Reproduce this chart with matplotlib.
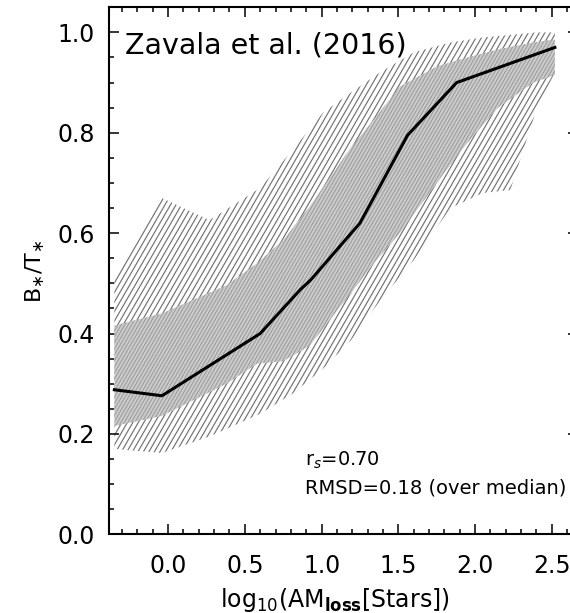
import numpy as np
import matplotlib
matplotlib.use('Agg')
import matplotlib.pyplot as plt
from matplotlib.collections import LineCollection
from matplotlib.patches import PathPatch
from matplotlib.ticker import MultipleLocator

# median B*/T* in bins of log10(AM_loss)
median_x = [-0.35, -0.04, 0.60, 0.86, 0.93, 1.25, 1.56, 1.88, 2.52]
median_y = [0.288, 0.276, 0.400, 0.487, 0.507, 0.620, 0.795, 0.900, 0.970]

# inner (1 sigma) band
inner_x = [-0.35, -0.04, 0.38, 0.58, 0.75, 0.92, 1.19, 1.34, 1.51, 1.75, 1.95, 2.15, 2.38, 2.52]
inner_lo = [0.216, 0.236, 0.300, 0.340, 0.345, 0.375, 0.480, 0.540, 0.600, 0.700, 0.780, 0.850, 0.900, 0.915]
inner_hi = [0.416, 0.440, 0.496, 0.540, 0.586, 0.652, 0.770, 0.826, 0.892, 0.932, 0.950, 0.966, 0.980, 0.986]

# outer (2 sigma) band
outer_x = [-0.35, -0.04, 0.27, 0.60, 0.81, 1.01, 1.19, 1.38, 1.60, 1.84, 2.05, 2.23, 2.40, 2.52]
outer_lo = [0.170, 0.162, 0.195, 0.240, 0.280, 0.330, 0.386, 0.465, 0.546, 0.650, 0.680, 0.686, 0.846, 0.920]
outer_hi = [0.506, 0.670, 0.626, 0.690, 0.765, 0.840, 0.880, 0.920, 0.960, 0.980, 0.990, 0.995, 1.000, 1.000]

r_s = 0.70
rmsd = 0.18

plt.rcParams['font.family'] = 'DejaVu Sans'
plt.rcParams['mathtext.fontset'] = 'dejavusans'

fig = plt.figure(figsize=(5.7, 6.13), dpi=100)
ax = fig.add_axes([0.1904, 0.1284, 0.8237, 0.8597])
ax.set_xlim(-0.388, 2.671)
ax.set_ylim(0, 1.05)


def line_fill(ax, x, lo, hi, spacing_px, angle, color, lw, face='none', z=1):
    # IDL-style polyfill: parallel lines clipped to the band polygon
    band = ax.fill_between(x, lo, hi, facecolor=face, edgecolor='none', zorder=z)
    patch = PathPatch(band.get_paths()[0], transform=ax.transData,
                      facecolor='none', edgecolor='none')
    ax.add_patch(patch)
    p0 = ax.transData.transform((0, 0))
    p1 = ax.transData.transform((1, 1))
    sx, sy = p1[0] - p0[0], p1[1] - p0[1]
    slope = np.tan(np.radians(angle)) * sx / sy
    y0, y1 = ax.get_ylim()
    xmin, xmax = ax.get_xlim()
    starts = np.arange(xmin - (y1 - y0) / slope, xmax, spacing_px / sx)
    segs = [[(xs, y0), (xs + (y1 - y0) / slope, y1)] for xs in starts]
    lc = LineCollection(segs, colors=color, linewidths=lw, zorder=z + 0.1)
    ax.add_collection(lc)
    lc.set_clip_path(patch)


line_fill(ax, outer_x, outer_lo, outer_hi, 5.5, 60, '#727272', 0.85, z=1)
line_fill(ax, inner_x, inner_lo, inner_hi, 3.5, 60, '#9a9a9a', 0.7, face='#cbcbcb', z=2)

ax.plot(median_x, median_y, color='black', lw=2.2, zorder=4)

ax.xaxis.set_major_locator(MultipleLocator(0.5))
ax.xaxis.set_minor_locator(MultipleLocator(0.1))
ax.yaxis.set_major_locator(MultipleLocator(0.2))
ax.yaxis.set_minor_locator(MultipleLocator(0.05))
ax.tick_params(which='both', direction='in', top=True, right=True, width=1.1)
ax.tick_params(which='major', length=7.2, labelsize=17, pad=10)
ax.tick_params(axis='x', which='major', pad=14.5)
ax.tick_params(which='minor', length=3.6)
for s in ax.spines.values():
    s.set_linewidth(1.5)

ax.set_xlabel(r'log$_{10}$(AM$_{\mathbf{loss}}$[Stars])', fontsize=17)
ax.xaxis.set_label_coords(0.482, -0.098)
ax.set_ylabel(r'B$_{\ast}$/T$_{\ast}$', fontsize=16)
ax.yaxis.set_label_coords(-0.13, 0.5)

ax.text(0.035, 0.928, 'Zavala et al. (2016)', transform=ax.transAxes,
        fontsize=20.5, va='center', ha='left')
ax.text(0.4185, 0.141, r'r$_s$=%.2f' % r_s, transform=ax.transAxes,
        fontsize=14, va='center', ha='left')
ax.text(0.4185, 0.088, 'RMSD=%.2f (over median)' % rmsd, transform=ax.transAxes,
        fontsize=14, va='center', ha='left')

fig.savefig('out.png', dpi=100)
